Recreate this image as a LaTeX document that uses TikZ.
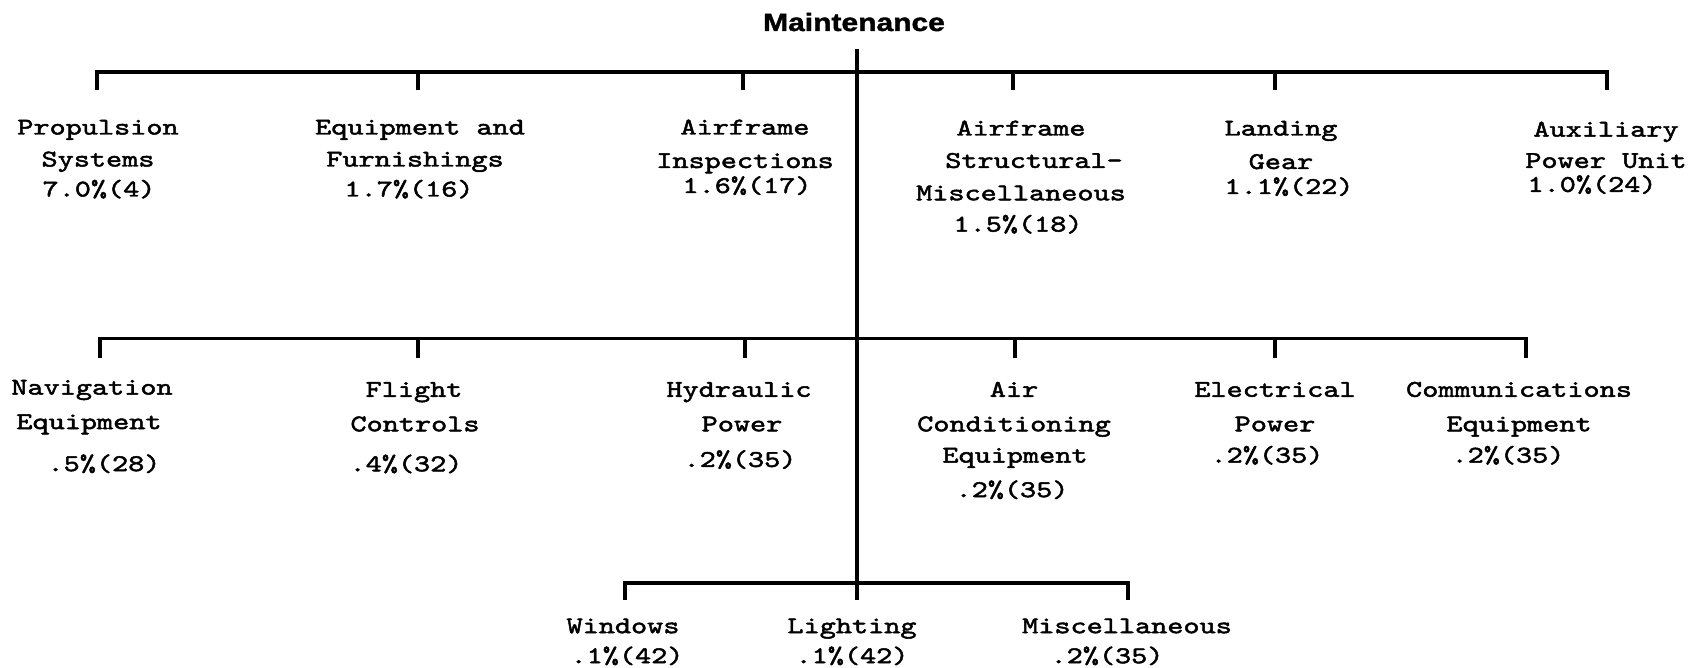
\documentclass[tikz,border=0pt]{standalone}
\usepackage{fontspec}
\newfontfamily\tw{lmmono10-regular.otf}[FakeStretch=1.28,FakeBold=2]
\newfontfamily\ttl{Liberation Sans}[FakeStretch=1.2,FakeBold=1.5]
\newcommand\sh[2]{\makebox[0pt]{\kern#1pt\kern#1pt #2}}
\begin{document}
\begin{tikzpicture}[x=1pt,y=-1pt,
  bar/.style={line width=3.2pt,line join=miter},
  lab/.style={align=center,anchor=base,inner sep=0pt,font=\tw\fontsize{24}{30}\selectfont},
  ttlstyle/.style={anchor=base,inner sep=0pt,font=\ttl\bfseries\fontsize{25}{30}\selectfont}]
\useasboundingbox (0,0) rectangle (1693,668);

\node[ttlstyle] (root) at (854,31) {Maintenance};

% spine
\coordinate (spineTop) at (857,48.6);
\coordinate (spineBot) at (857,600);
\draw[bar] (spineTop) -- (spineBot);

% level 1
\coordinate (b1) at (0,72);
\foreach \n/\x in {t1/97,t2/418,t3/743,t4/1013,t5/1275,t6/1607}
  \coordinate (\n) at (\x,90.5);
\draw[bar] (t1) -- (t1 |- b1) -- (t6 |- b1) -- (t6);
\foreach \n in {t2,t3,t4,t5} \draw[bar] (\n) -- (\n |- b1);

% level 2
\coordinate (b2) at (0,338.5);
\foreach \n/\x in {m1/100,m2/418,m3/745,m4/1015,m5/1275,m6/1526}
  \coordinate (\n) at (\x,358);
\draw[bar] (m1) -- (m1 |- b2) -- (m6 |- b2) -- (m6);
\foreach \n in {m2,m3,m4,m5} \draw[bar] (\n) -- (\n |- b2);

% level 3
\coordinate (b3) at (0,583);
\coordinate (w1) at (625,600);
\coordinate (w3) at (1128,600);
\draw[bar] (w1) -- (w1 |- b3) -- (w3 |- b3) -- (w3);

% labels level 1 (anchor = baseline of last line)
\node[lab] (prop) at (98,196.5) {\sh{0}{Propulsion}\\[2pt]\sh{0}{Systems}\\[0pt]\sh{1}{7.0\%(4)}};
\node[lab] (equip) at (420,196.5) {\sh{0}{Equipment and}\\[2pt]\sh{-5}{Furnishings}\\[0pt]\sh{-11}{1.7\%(16)}};
\node[lab] (insp) at (745,193) {\sh{0}{Airframe}\\[3.5pt]\sh{0}{Inspections}\\[-5pt]\sh{2}{1.6\%(17)}};
\node[lab] (struct) at (1021,231.6) {\sh{0}{Airframe}\\[2.4pt]\sh{13}{Structural-}\\[2.4pt]\sh{0}{Miscellaneous}\\[1.3pt]\sh{-3}{1.5\%(18)}};
\node[lab] (gear) at (1281,194) {\sh{0}{Landing}\\[3.5pt]\sh{0}{Gear}\\[-5pt]\sh{8}{1.1\%(22)}};
\node[lab] (apu) at (1606,191.9) {\sh{0}{Auxiliary}\\[1.3pt]\sh{0}{Power Unit}\\[-6pt]\sh{-14}{1.0\%(24)}};

% labels level 2
\node[lab] (nav) at (92,471.1) {\sh{0}{Navigation}\\[4.5pt]\sh{-3}{Equipment}\\[12pt]\sh{12}{.5\%(28)}};
\node[lab] (flight) at (414,471.3) {\sh{0}{Flight}\\[4.5pt]\sh{1}{Controls}\\[10pt]\sh{-8}{.4\%(32)}};
\node[lab] (hyd) at (739,466.9) {\sh{0}{Hydraulic}\\[4.5pt]\sh{3}{Power}\\[5.6pt]\sh{1}{.2\%(35)}};
\node[lab] (aircon) at (1014,497.1) {\sh{0}{Air}\\[4.5pt]\sh{0}{Conditioning}\\[1.3pt]\sh{1}{Equipment}\\[4.5pt]\sh{-2}{.2\%(35)}};
\node[lab] (elec) at (1275,462.6) {\sh{0}{Electrical}\\[4.5pt]\sh{0}{Power}\\[1.3pt]\sh{-8}{.2\%(35)}};
\node[lab] (comm) at (1519,462.6) {\sh{0}{Communications}\\[4.5pt]\sh{0}{Equipment}\\[1.3pt]\sh{-11}{.2\%(35)}};

% labels level 3
\node[lab] (win) at (623,663.2) {\sh{0}{Windows}\\[0pt]\sh{4}{.1\%(42)}};
\node[lab] (light) at (852,663.2) {\sh{0}{Lighting}\\[0pt]\sh{0}{.1\%(42)}};
\node[lab] (misc) at (1127,663.2) {\sh{0}{Miscellaneous}\\[0pt]\sh{-20}{.2\%(35)}};
\end{tikzpicture}
\end{document}
